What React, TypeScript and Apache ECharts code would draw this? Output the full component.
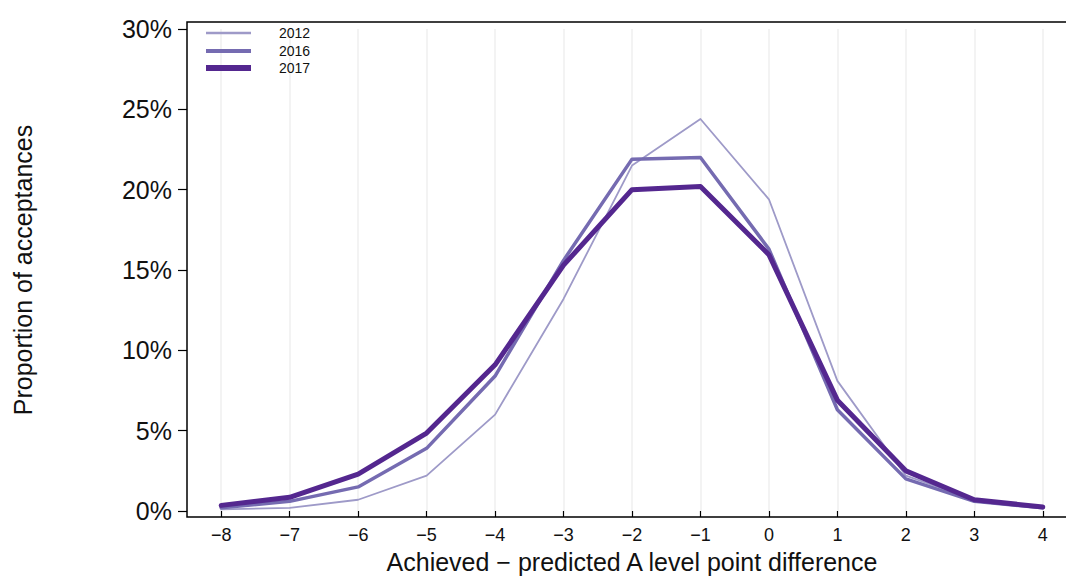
import React, { useEffect, useRef } from "react";
import * as echarts from "echarts";

const categories = ["−8", "−7", "−6", "−5", "−4", "−3", "−2", "−1", "0", "1", "2", "3", "4"];
const yTicks = [0, 5, 10, 15, 20, 25, 30];
const s2012 = [0.1, 0.2, 0.7, 2.2, 6.0, 13.2, 21.5, 24.4, 19.4, 8.1, 2.2, 0.7, 0.25];
const s2016 = [0.2, 0.6, 1.5, 3.9, 8.4, 15.6, 21.9, 22.0, 16.3, 6.3, 2.0, 0.6, 0.2];
const s2017 = [0.35, 0.85, 2.3, 4.85, 9.1, 15.3, 20.0, 20.2, 15.95, 6.9, 2.5, 0.7, 0.25];
const seriesNames = ["2012", "2016", "2017"];
const colors = ["#9e9ac8", "#756bb1", "#54278f"];
const widths = [1.8, 3.5, 5];

const FONT = "Liberation Sans, Arial, sans-serif";

export default function App() {
  const ref = useRef<HTMLDivElement>(null);
  useEffect(() => {
    if (!ref.current) return;
    document.body.style.overflow = "hidden";
    const chart = echarts.init(ref.current, null, { renderer: "svg" });
    const data = [s2012, s2016, s2017];
    const legendGraphics: any[] = [];
    seriesNames.forEach((n, i) => {
      const y = [33, 51, 68][i];
      legendGraphics.push({
        type: "line",
        shape: { x1: 206, y1: y, x2: 251, y2: y },
        style: { stroke: colors[i], lineWidth: [2.5, 4, 6][i] },
        z: 100,
      });
      legendGraphics.push({
        type: "text",
        x: 279,
        y: y,
        style: { text: n, font: `14px ${FONT}`, fill: "#111", textVerticalAlign: "middle" },
        z: 100,
      });
    });
    chart.setOption({
      animation: false,
      backgroundColor: "#fff",
      grid: { left: 187, right: 0, top: 29, bottom: 66, show: false, containLabel: false, outerBoundsMode: "none" },
      xAxis: {
        type: "category",
        data: categories,
        boundaryGap: true,
        offset: 6,
        axisLine: { show: false },
        axisTick: { show: true, alignWithLabel: true, length: 6, lineStyle: { color: "#000", width: 1.2 } },
        axisLabel: { fontFamily: FONT, fontSize: 18, color: "#111", margin: 9 },
        splitLine: { show: true, alignWithLabel: true, lineStyle: { color: "#f3f3f3", width: 2 } },
        name: "Achieved − predicted A level point difference",
        nameLocation: "middle",
        nameGap: 32,
        nameTextStyle: { fontFamily: FONT, fontSize: 25, color: "#111" },
      },
      yAxis: {
        type: "value",
        min: yTicks[0],
        max: yTicks[yTicks.length - 1],
        interval: 5,
        axisLine: { show: false },
        axisTick: { show: true, inside: false, length: 9, lineStyle: { color: "#000", width: 1.2 } },
        axisLabel: { fontFamily: FONT, fontSize: 25, color: "#111", margin: 15, formatter: "{value}%" },
        splitLine: { show: false },
        name: "Proportion of acceptances",
        nameLocation: "middle",
        nameGap: 152,
        nameTextStyle: { fontFamily: FONT, fontSize: 25, color: "#111" },
      },
      graphic: [
        {
          type: "rect",
          shape: { x: 187, y: 22, width: 890, height: 495 },
          style: { fill: "none", stroke: "#000", lineWidth: 1.5 },
          z: 50,
          silent: true,
        },
        ...legendGraphics,
      ],
      series: seriesNames.map((n, i) => ({
        name: n,
        type: "line",
        data: data[i],
        showSymbol: false,
        symbol: "none",
        lineStyle: { color: colors[i], width: widths[i], join: "round", cap: "round" },
        itemStyle: { color: colors[i] },
        z: 10 + i,
      })),
    });
    return () => chart.dispose();
  }, []);
  return (
    <div
      ref={ref}
      style={{ position: "absolute", left: 0, top: 0, width: 1077, height: 577 }}
    />
  );
}
